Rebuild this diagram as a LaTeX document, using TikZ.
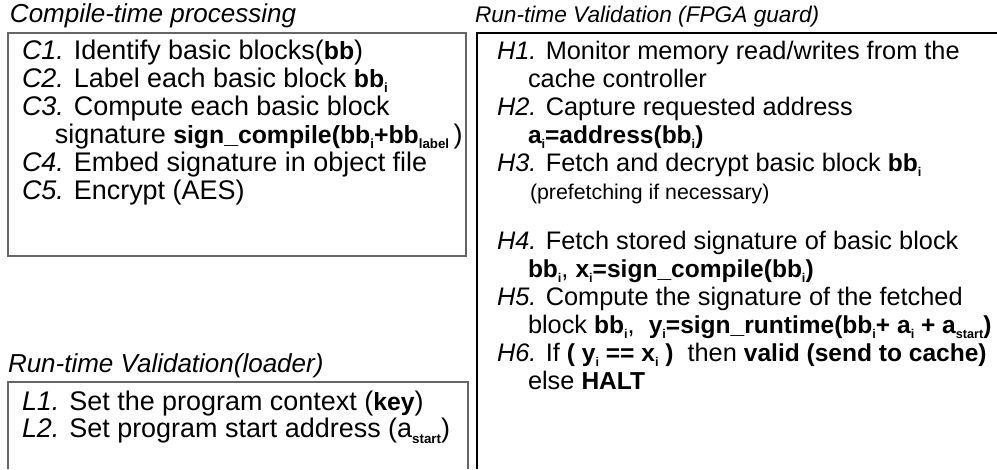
\documentclass[tikz,border=0pt]{standalone}
\usepackage{fontspec}
\setmainfont{Liberation Sans}
% bold keyword, set a little smaller than the running text
\newcommand\kw[1]{{\bfseries\fontsize{\kwsz}{\kwsz}\selectfont #1}}
% lowered bold index
\newcommand\lo[1]{\raisebox{-0.45ex}{\bfseries\fontsize{\losz}{\losz}\selectfont #1}}
\newcommand\leftfont{\fontsize{20.2pt}{24pt}\selectfont\def\kwsz{18.6pt}\def\losz{10pt}}
\newcommand\rightfont{\fontsize{19pt}{23pt}\selectfont\def\kwsz{18.4pt}\def\losz{9.5pt}}
\newcommand\smallfont{\fontsize{16pt}{19pt}\selectfont}
\begin{document}
\begin{tikzpicture}[x=0.75pt,y=-0.75pt,
  line/.style={anchor=base west,inner sep=0pt,outer sep=0pt},
  lefttext/.style={line,font=\leftfont},
  righttext/.style={line,font=\rightfont},
  grayframe/.style={draw=black!60,line width=1.3pt},
  blackframe/.style={draw=black,line width=0.9pt}]
\useasboundingbox (0,0) rectangle (997,469);

% compile-time box
\node[line,font=\fontsize{19.5pt}{24pt}\selectfont\itshape] (tc) at (10,22) {Compile-time processing};
\draw[grayframe] (8,33) rectangle (466,256);
\node[lefttext] (c1) at (22,59)    {\textit{C1.} Identify basic blocks(\kw{bb})};
\node[lefttext] (c2) at (22,87)    {\textit{C2.} Label each basic block \kw{bb\lo{i}}};
\node[lefttext] (c3) at (22,115)   {\textit{C3.} Compute each basic block};
\node[lefttext] (c3b) at (55,143)  {signature \kw{sign\_compile(bb\lo{i}+bb\lo{label}}\,)};
\node[lefttext] (c4) at (22,171)   {\textit{C4.} Embed signature in object file};
\node[lefttext] (c5) at (22,199)   {\textit{C5.} Encrypt (AES)};

% loader box
\node[line,font=\fontsize{19.5pt}{24pt}\selectfont\itshape] (tl) at (8,372) {Run-time Validation(loader)};
\draw[grayframe] (8,469) -- (8,382) -- (468,382) -- (468,469);
\node[lefttext] (l1) at (22,410) {\textit{L1.} Set the program context (\kw{key})};
\node[lefttext] (l2) at (22,437) {\textit{L2.} Set program start address (a\lo{start})};

% FPGA guard box
\node[line,font=\fontsize{17pt}{20pt}\selectfont\itshape] (th) at (475,22) {Run-time Validation (FPGA guard)};
\draw[blackframe] (997,33) -- (477,33) -- (477,469);
\node[righttext] (h1) at (497,59)    {\textit{H1.} Monitor memory read/writes from the};
\node[righttext] (h1b) at (528,87)   {cache controller};
\node[righttext] (h2) at (497,115)   {\textit{H2.} Capture requested address};
\node[righttext] (h2b) at (528,143)  {\kw{a\lo{i}=address(bb\lo{i})}};
\node[righttext] (h3) at (497,171)   {\textit{H3.} Fetch and decrypt basic block \kw{bb\lo{i}}};
\node[line,font=\smallfont] (h3b) at (530,199) {(prefetching if necessary)};
\node[righttext] (h4) at (497,249)   {\textit{H4.} Fetch stored signature of basic block};
\node[righttext] (h4b) at (528,277)  {\kw{bb\lo{i}}, \kw{x\lo{i}=sign\_compile(bb\lo{i})}};
\node[righttext] (h5) at (497,305)   {\textit{H5.} Compute the signature of the fetched};
\node[righttext] (h5b) at (528,333)  {block \kw{bb\lo{i}},\ \ \kw{y\lo{i}=sign\_runtime(bb\lo{i}+ a\lo{i} + a\lo{start})}};
\node[righttext] (h6) at (497,361)   {\textit{H6.} If \kw{( y\lo{i} == x\lo{i} )}\ \ then \kw{valid (send to cache)}};
\node[righttext] (h6b) at (528,389)  {else \kw{HALT}};
\end{tikzpicture}
\end{document}
